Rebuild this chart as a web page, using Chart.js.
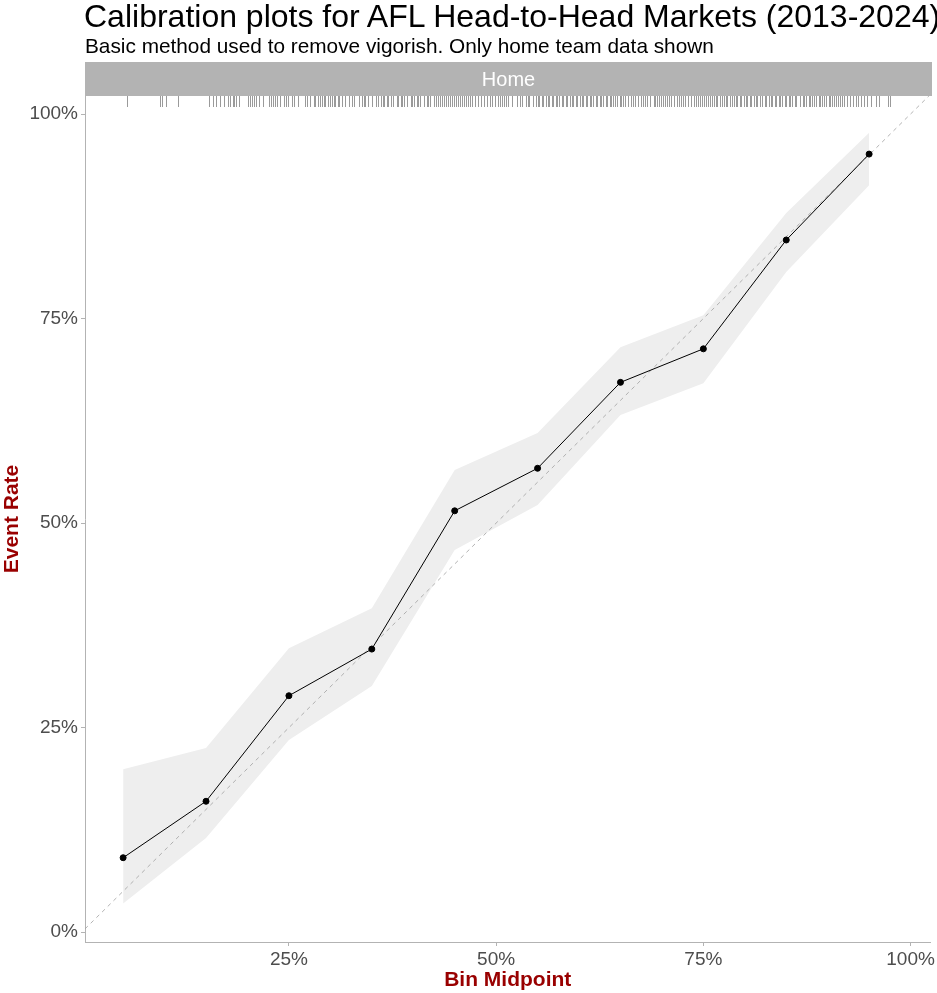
<!DOCTYPE html>
<html>
<head>
<meta charset="utf-8">
<script src="https://cdn.jsdelivr.net/npm/chart.js@4.4.1/dist/chart.umd.min.js"></script>
<style>
  body { margin: 0; background: #fff; font-family: "Liberation Sans", Arial, sans-serif; }
  #wrap { position: relative; width: 937px; height: 993px; }
  #title { position: absolute; left: 84px; top: 0px; font-size: 32px; line-height: 32px; color: #000; white-space: nowrap; }
  #subtitle { position: absolute; left: 85px; top: 35px; font-size: 20.8px; line-height: 21px; color: #000; white-space: nowrap; }
  #strip { position: absolute; left: 85px; top: 62px; width: 847px; height: 34px; background: #b3b3b3;
           color: #fff; font-size: 20px; line-height: 34px; text-align: center; }
  #chartBox { position: absolute; left: 0; top: 0; width: 937px; height: 993px; }
</style>
</head>
<body>
<div id="wrap">
  <div id="chartBox"><canvas id="calChart"></canvas></div>
  <div id="title">Calibration plots for AFL Head-to-Head Markets (2013-2024)</div>
  <div id="subtitle">Basic method used to remove vigorish. Only home team data shown</div>
  <div id="strip">Home</div>
</div>
<script>
// bin midpoints and observed home-win rate, with the shaded interval
var binMid = [0.05, 0.15, 0.25, 0.35, 0.45, 0.55, 0.65, 0.75, 0.85, 0.95];
var eventRate = [0.091, 0.160, 0.289, 0.346, 0.515, 0.567, 0.672, 0.713, 0.846, 0.951];
var ciLower = [0.035, 0.115, 0.235, 0.301, 0.467, 0.522, 0.632, 0.671, 0.807, 0.913];
var ciUpper = [0.199, 0.225, 0.347, 0.396, 0.565, 0.610, 0.715, 0.754, 0.879, 0.977];

var xTicks = [0.25, 0.5, 0.75, 1];
var yTicks = [0, 0.25, 0.5, 0.75, 1];

// home team implied probabilities (rug along the top)
var rugProbs = [
  0.055, 0.095, 0.097, 0.102, 0.116,
  0.153, 0.158, 0.162, 0.167, 0.172, 0.177, 0.179, 0.182, 0.184, 0.186, 0.190, 0.201, 0.203, 0.206, 0.208,
  0.210, 0.214, 0.219, 0.226, 0.228, 0.231, 0.233, 0.236, 0.239, 0.244, 0.246, 0.249, 0.254, 0.256, 0.261,
  0.269, 0.272, 0.276, 0.280, 0.282, 0.285, 0.287, 0.290, 0.292, 0.294, 0.297, 0.299, 0.302, 0.304, 0.306,
  0.309, 0.311, 0.314,
  0.318, 0.322, 0.326, 0.329, 0.334, 0.338, 0.340, 0.342, 0.346, 0.350, 0.355, 0.358, 0.361, 0.363, 0.365,
  0.368, 0.370, 0.373, 0.375, 0.380, 0.382, 0.385, 0.387, 0.389, 0.392, 0.397, 0.399, 0.401, 0.404, 0.406,
  0.408, 0.413, 0.416, 0.418, 0.420, 0.425, 0.428, 0.430, 0.432, 0.435, 0.437, 0.440, 0.442, 0.444, 0.447,
  0.449, 0.452, 0.454, 0.456, 0.459, 0.461, 0.464, 0.466, 0.468, 0.471, 0.474, 0.478, 0.482,
  0.485, 0.489, 0.493, 0.495, 0.499, 0.502, 0.505, 0.507, 0.509, 0.512, 0.514, 0.519, 0.525, 0.529, 0.531,
  0.536, 0.538, 0.540, 0.545, 0.548, 0.550, 0.552, 0.555, 0.557, 0.560, 0.562, 0.564, 0.567, 0.569, 0.572,
  0.574, 0.576, 0.579, 0.581, 0.584, 0.586, 0.589, 0.591, 0.593, 0.596, 0.598, 0.601, 0.603, 0.605, 0.608,
  0.610, 0.613, 0.615, 0.617, 0.620, 0.622, 0.625, 0.627, 0.629, 0.632, 0.634, 0.637, 0.639, 0.641, 0.644,
  0.646, 0.649, 0.651,
  0.653, 0.656, 0.659, 0.663, 0.665, 0.668, 0.671, 0.675, 0.677, 0.680, 0.682, 0.686, 0.690, 0.692, 0.694,
  0.697, 0.699, 0.701, 0.704, 0.706, 0.709, 0.711, 0.715, 0.718, 0.721, 0.723, 0.725, 0.728, 0.731, 0.735,
  0.739, 0.741, 0.743, 0.746, 0.748, 0.751, 0.753, 0.755, 0.758, 0.760, 0.763, 0.765, 0.767, 0.770, 0.772,
  0.775, 0.777, 0.779, 0.782, 0.784, 0.787, 0.789, 0.791, 0.794, 0.796, 0.799, 0.801, 0.803, 0.806, 0.808,
  0.811, 0.813, 0.815, 0.818,
  0.821, 0.824, 0.826, 0.829, 0.831, 0.833, 0.836, 0.838, 0.841, 0.843, 0.845, 0.848, 0.850, 0.853, 0.855,
  0.857, 0.860, 0.862, 0.866, 0.870, 0.872, 0.874, 0.877, 0.879, 0.881, 0.884, 0.886, 0.889, 0.891, 0.893,
  0.896, 0.898, 0.901, 0.903, 0.905, 0.908, 0.910, 0.913, 0.915, 0.917, 0.920, 0.923, 0.927, 0.931, 0.934,
  0.937, 0.940, 0.944, 0.948, 0.952, 0.958, 0.962, 0.973, 0.975
];

var xMin = 0.004, xMax = 1.024;
var yMin = -0.012, yMax = 1.022;

function pts(xs, ys) {
  return xs.map(function(x, i) { return { x: x, y: ys[i] }; });
}
function pct(v) { return Math.round(v * 100) + '%'; }

// rug ticks drawn from the x scale
var rugPlugin = {
  id: 'rug',
  afterDatasetsDraw: function(chart) {
    var ctx = chart.ctx, xs = chart.scales.x, area = chart.chartArea;
    ctx.save();
    ctx.strokeStyle = 'rgba(120,120,120,0.75)';
    ctx.lineWidth = 1;
    rugProbs.forEach(function(p) {
      var px = Math.round(xs.getPixelForValue(p)) + 0.5;
      ctx.beginPath();
      ctx.moveTo(px, area.top);
      ctx.lineTo(px, area.top + 11);
      ctx.stroke();
    });
    ctx.restore();
  }
};

var tickFont = { family: '"Liberation Sans", Arial, sans-serif', size: 19 };
var titleFont = { family: '"Liberation Sans", Arial, sans-serif', size: 21, weight: 'bold' };

var ctx = document.getElementById('calChart').getContext('2d');
var chart = new Chart(ctx, {
  type: 'scatter',
  data: {
    datasets: [
      {
        label: 'Event rate',
        type: 'line',
        data: pts(binMid, eventRate),
        borderColor: '#000',
        backgroundColor: '#000',
        borderWidth: 1,
        pointRadius: 3,
        pointHoverRadius: 3,
        fill: false,
        order: 0
      },
      {
        label: 'Perfect calibration',
        type: 'line',
        data: [{ x: xMin, y: xMin }, { x: xMax, y: xMax }],
        borderColor: '#a0a0a0',
        borderWidth: 0.8,
        borderDash: [4, 4],
        pointRadius: 0,
        fill: false,
        order: 1
      },
      {
        label: 'Lower',
        type: 'line',
        data: pts(binMid, ciLower),
        borderWidth: 0,
        borderColor: 'rgba(0,0,0,0)',
        pointRadius: 0,
        fill: false,
        order: 3
      },
      {
        label: 'Upper',
        type: 'line',
        data: pts(binMid, ciUpper),
        borderWidth: 0,
        borderColor: 'rgba(0,0,0,0)',
        backgroundColor: '#eeeeee',
        pointRadius: 0,
        fill: 2,
        order: 2
      }
    ]
  },
  options: {
    responsive: true,
    maintainAspectRatio: false,
    animation: false,
    layout: { padding: { left: 0, right: 5, top: 96, bottom: 0 } },
    plugins: {
      legend: { display: false },
      tooltip: { enabled: false },
      filler: { propagate: false }
    },
    scales: {
      x: {
        type: 'linear',
        min: xMin,
        max: xMax,
        afterBuildTicks: function(s) { s.ticks = xTicks.map(function(v) { return { value: v }; }); },
        afterFit: function(s) { s.height = 51; },
        grid: { drawOnChartArea: false, drawTicks: true, tickLength: 4, color: '#b3b3b3' },
        border: { display: true, color: '#b3b3b3', width: 1 },
        ticks: { font: tickFont, color: '#4d4d4d', padding: 2, maxRotation: 0, callback: pct },
        title: { display: true, text: 'Bin Midpoint', color: '#990000', font: titleFont, padding: { top: 0, bottom: 0 } }
      },
      y: {
        type: 'linear',
        min: yMin,
        max: yMax,
        afterBuildTicks: function(s) { s.ticks = yTicks.map(function(v) { return { value: v }; }); },
        afterFit: function(s) { s.width = 85; },
        grid: { drawOnChartArea: false, drawTicks: true, tickLength: 4, color: '#b3b3b3' },
        border: { display: true, color: '#b3b3b3', width: 1 },
        ticks: { font: tickFont, color: '#4d4d4d', padding: 3, callback: pct },
        title: { display: true, text: 'Event Rate', color: '#990000', font: titleFont, padding: { top: 0, bottom: 0 } }
      }
    }
  },
  plugins: [rugPlugin]
});
</script>
</body>
</html>
